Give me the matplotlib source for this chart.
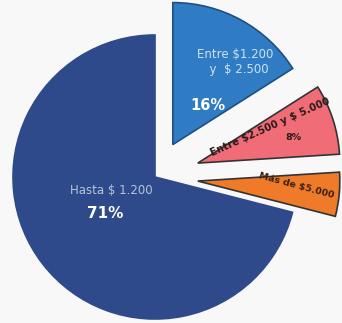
import matplotlib.pyplot as plt

# Data
labels = ["Entre \\$1.200\n  y  \\$ 2.500", "Entre \\$2.500 y \\$ 5.000", "Más de \\$5.000", "Hasta \\$ 1.200"]
shares = [16, 8, 5, 71]
colors = ["#2f7cc4", "#f06d78", "#ee7a2a", "#2e4a8a"]
explode = [37, 45, 43, 0]  # offsets in data units (pixels here)

fig = plt.figure(figsize=(3.42, 3.23), dpi=100)
fig.patch.set_facecolor("#f8f8f8")
ax = fig.add_axes([0, 0, 1, 1])
ax.set_facecolor("#f8f8f8")

# pie in pixel-like coordinates (y up)
cx, cy, r = 155, 146, 142
wedges, _ = ax.pie(shares, colors=colors, explode=explode, startangle=90,
                   counterclock=False, center=(cx, cy), radius=r, frame=True,
                   wedgeprops=dict(linewidth=1.2, edgecolor="#333333"))
wedges[3].set_edgecolor("#2e4a8a")
wedges[0].set_edgecolor("#1f4f80")

ax.set_xlim(0, 342)
ax.set_ylim(0, 323)
ax.set_aspect("equal")
ax.axis("off")

# slice labels
ax.text(235, 323 - 62, labels[0], color="#cfe0f5", fontsize=8.5, ha="center", va="center",
        linespacing=1.15)
ax.text(208, 323 - 105, f"{shares[0]}%", color="white", fontsize=10.5, fontweight="bold",
        ha="center", va="center")
ax.text(270, 323 - 127, labels[1], color="#2a1a1a", fontsize=7.3, fontweight="bold",
        ha="center", va="center", rotation=24)
ax.text(293, 323 - 138, f"{shares[1]}%", color="#2a1a1a", fontsize=6.8, fontweight="bold",
        ha="center", va="center")
ax.text(296, 323 - 186, labels[2], color="#3a2010", fontsize=6.8, fontweight="bold",
        ha="center", va="center", rotation=-15)
ax.text(111, 323 - 190, labels[3], color="#b8c4dc", fontsize=8.5, ha="center", va="center")
ax.text(105, 323 - 213, f"{shares[3]}%", color="white", fontsize=11, fontweight="bold",
        ha="center", va="center")

fig.savefig("out.png", dpi=100, facecolor=fig.get_facecolor())
